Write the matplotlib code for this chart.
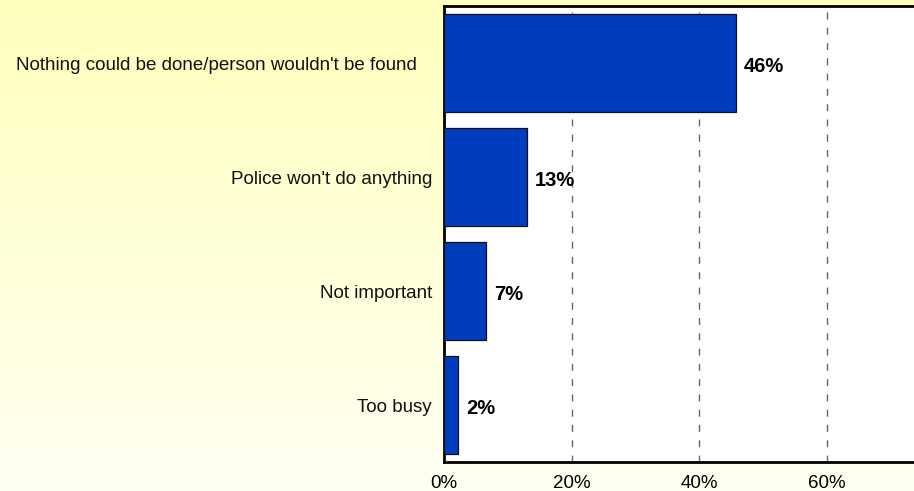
import matplotlib
matplotlib.use("Agg")
import matplotlib.pyplot as plt
import numpy as np
from matplotlib.colors import LinearSegmentedColormap
from matplotlib import transforms

categories = ["Nothing could be done/person wouldn't be found",
              "Police won't do anything",
              "Not important",
              "Too busy"]
values = [45.7, 13.0, 6.6, 2.2]
labels = ["46%", "13%", "7%", "2%"]
xticks = [0, 20, 40, 60]
xticklabels = ["0%", "20%", "40%", "60%"]

plt.rcParams['font.family'] = ['Liberation Sans', 'DejaVu Sans']

W, H = 914, 491
fig = plt.figure(figsize=(W/100, H/100), dpi=100)

# background gradient
bg = fig.add_axes([0, 0, 1, 1], zorder=-10)
cmap = LinearSegmentedColormap.from_list("bgy", [(1, 1, 0.74), (1, 1, 0.95)])
grad = np.linspace(0, 1, 256).reshape(-1, 1)
bg.imshow(grad, aspect='auto', cmap=cmap, extent=[0, 1, 0, 1], origin='upper')
bg.axis('off')

left = 444 / W
bottom = 1 - 462 / H
top = 1 - 6 / H
ax = fig.add_axes([left, bottom, 1 - left, top - bottom])
ax.set_facecolor('white')

ypos = np.arange(len(categories))
ax.barh(ypos, values, height=0.855, color='#003CBE', edgecolor='#111111', linewidth=0.9, zorder=3)
ax.set_ylim(len(categories) - 0.5, -0.5)
ax.set_xlim(0, (W - 444) / (127.7 / 20))

for y, v, lab in zip(ypos, values, labels):
    ax.annotate(lab, (v, y), xytext=(8, -3), textcoords='offset pixels',
                va='center', ha='left', fontsize=14.5, fontweight='bold', color='black', zorder=4)

# category labels
ax.set_yticks([])
blend = transforms.blended_transform_factory(ax.transAxes, ax.transData)
pads = [27, 12, 12, 12]
for y, cat, p in zip(ypos, categories, pads):
    tr = blend + transforms.ScaledTranslation(-p / 100, -2.5 / 100, fig.dpi_scale_trans)
    ax.text(0, y, cat, transform=tr, ha='right', va='center', fontsize=13.5, color='#111111')

ax.set_xticks(xticks)
ax.set_xticklabels(xticklabels, fontsize=13.5)
ax.tick_params(axis='both', length=0)
ax.tick_params(axis='x', pad=9)

for x in xticks[1:]:
    ax.axvline(x, color='#666666', linewidth=1, linestyle=(0, (5, 6)), zorder=1)

for s in ['left', 'bottom', 'top']:
    ax.spines[s].set_linewidth(2)
    ax.spines[s].set_color('black')
ax.spines['right'].set_visible(False)

fig.savefig("out.png", dpi=100)
